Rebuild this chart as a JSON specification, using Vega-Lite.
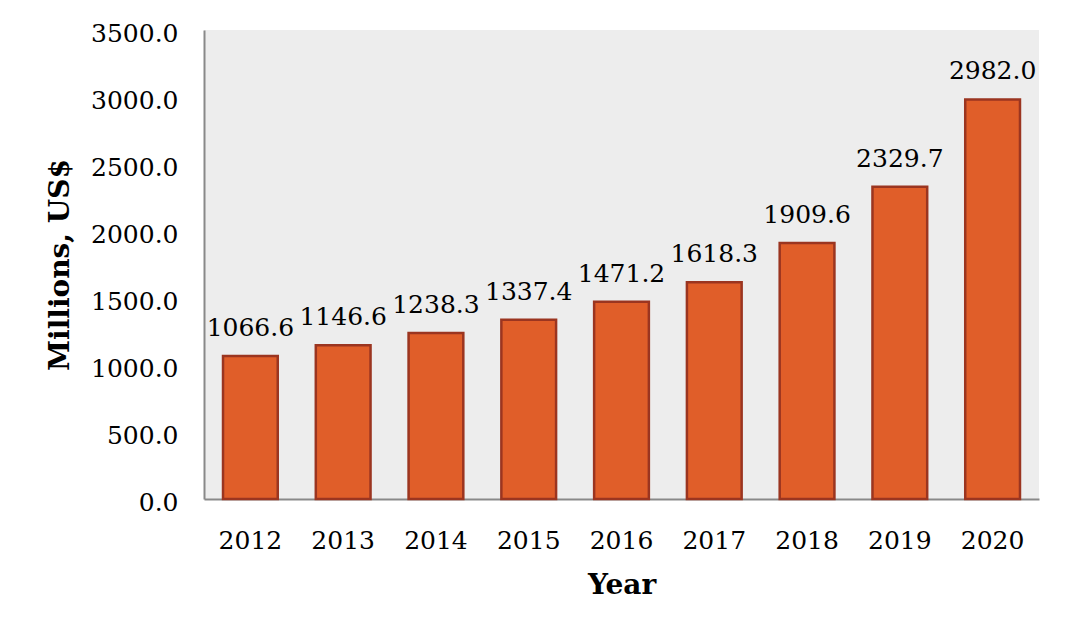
{
  "$schema": "https://vega.github.io/schema/vega-lite/v6.json",
  "autosize": "none",
  "width": 835,
  "height": 469,
  "padding": {"left": 204, "top": 30, "right": 33, "bottom": 122},
  "background": "white",
  "config": {
    "view": {"fill": "#EDEDED", "stroke": null},
    "font": "DejaVu Serif"
  },
  "data": {
    "values": [
      {"year": "2012", "value": 1066.6},
      {"year": "2013", "value": 1146.6},
      {"year": "2014", "value": 1238.3},
      {"year": "2015", "value": 1337.4},
      {"year": "2016", "value": 1471.2},
      {"year": "2017", "value": 1618.3},
      {"year": "2018", "value": 1909.6},
      {"year": "2019", "value": 2329.7},
      {"year": "2020", "value": 2982.0}
    ]
  },
  "encoding": {
    "x": {
      "field": "year", "type": "nominal",
      "scale": {"paddingInner": 0.41, "paddingOuter": 0.205},
      "axis": {
        "title": "Year", "labelAngle": 0, "labelFontSize": 25, "labelColor": "#000",
        "labelPadding": 29, "ticks": false, "domainColor": "#898989", "domainWidth": 2,
        "titleFontSize": 28, "titleFontWeight": "bold", "titleColor": "#000", "titlePadding": 18
      }
    },
    "y": {
      "field": "value", "type": "quantitative",
      "scale": {"domain": [0, 3500]},
      "axis": {
        "title": "Millions, US$", "values": [0,500,1000,1500,2000,2500,3000,3500],
        "format": ".1f", "grid": false, "ticks": false, "labelFontSize": 25, "labelColor": "#000",
        "labelPadding": 26, "labelOffset": 3, "domainColor": "#898989", "domainWidth": 2,
        "titleFontSize": 28, "titleFontWeight": "bold", "titleColor": "#000", "titlePadding": 16
      }
    }
  },
  "layer": [
    {
      "mark": {"type": "bar", "fill": "#E05E29", "stroke": "#9B3520", "strokeWidth": 2.5}
    },
    {
      "mark": {"type": "text", "fontSize": 25, "baseline": "bottom", "dy": -15, "color": "#000"},
      "encoding": {"text": {"field": "value", "type": "quantitative", "format": ".1f"}}
    }
  ]
}
